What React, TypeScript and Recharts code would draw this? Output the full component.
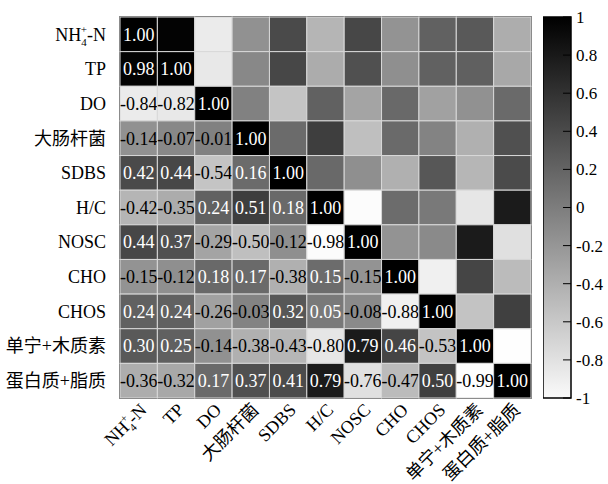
import { ScatterChart, Scatter, XAxis, YAxis, ReferenceArea, BarChart, Bar } from "recharts";

const labels = ["NH4-N", "TP", "DO", "大肠杆菌", "SDBS", "H/C", "NOSC", "CHO", "CHOS", "单宁+木质素", "蛋白质+脂质"];

// lower triangle of the correlation matrix, row by row
const rowNH4 = [1.0];
const rowTP = [0.98, 1.0];
const rowDO = [-0.84, -0.82, 1.0];
const rowEcoli = [-0.14, -0.07, -0.01, 1.0];
const rowSDBS = [0.42, 0.44, -0.54, 0.16, 1.0];
const rowHC = [-0.42, -0.35, 0.24, 0.51, 0.18, 1.0];
const rowNOSC = [0.44, 0.37, -0.29, -0.5, -0.12, -0.98, 1.0];
const rowCHO = [-0.15, -0.12, 0.18, 0.17, -0.38, 0.15, -0.15, 1.0];
const rowCHOS = [0.24, 0.24, -0.26, -0.03, 0.32, 0.05, -0.08, -0.88, 1.0];
const rowTannin = [0.3, 0.25, -0.14, -0.38, -0.43, -0.8, 0.79, 0.46, -0.53, 1.0];
const rowProtein = [-0.36, -0.32, 0.17, 0.37, 0.41, 0.79, -0.76, -0.47, 0.5, -0.99, 1.0];

const rows = [rowNH4, rowTP, rowDO, rowEcoli, rowSDBS, rowHC, rowNOSC, rowCHO, rowCHOS, rowTannin, rowProtein];

const colorTicks = [-1, -0.8, -0.6, -0.4, -0.2, 0, 0.2, 0.4, 0.6, 0.8, 1];

const cells: { x: number; y: number; v: number; show: boolean }[] = [];
rows.forEach((_, i) => {
  labels.forEach((__, j) => {
    const v = j <= i ? rows[i][j] : rows[j][i];
    cells.push({ x: j, y: i, v, show: j <= i });
  });
});

const grey = (v: number) => {
  const g = Math.round(((1 - v) / 2) * 255);
  return `rgb(${g},${g},${g})`;
};

const W = 608;
const H = 484;
const M = { top: 17, right: 77, bottom: 0, left: 0 };
const Y_W = 120;
const X_H = 86;
const cw = (W - M.left - M.right - Y_W) / labels.length;
const ch = (H - M.top - M.bottom - X_H) / labels.length;

const FONT = "'Liberation Serif', 'Times New Roman', 'Noto Sans CJK SC', serif";

const CellShape = (p: any) => {
  const { cx, cy, payload } = p;
  return (
    <g>
      <rect x={cx - cw / 2} y={cy - ch / 2} width={cw} height={ch} fill={grey(payload.v)} stroke="#d8d8d8" strokeWidth={1} />
      {payload.show && (
        <text x={cx} y={cy} textAnchor="middle" dy="0.35em" fontSize={18} fill={payload.v > 0 ? "#fff" : "#000"}>
          {payload.v.toFixed(2)}
        </text>
      )}
    </g>
  );
};

const NH4 = () => (
  <>
    NH<tspan fontSize={11} dy={5}>4</tspan>
    <tspan fontSize={11} dx={-6} dy={-13}>+</tspan>
    <tspan dy={8}>-N</tspan>
  </>
);

const YTick = (p: any) => {
  const { x, y, payload } = p;
  const name = labels[payload.value];
  return (
    <text x={x} y={y} textAnchor="end" dy="0.35em" fontSize={18} fill="#000">
      {name === "NH4-N" ? <NH4 /> : name}
    </text>
  );
};

const XTick = (p: any) => {
  const { x, y, payload } = p;
  const name = labels[payload.value];
  return (
    <g transform={`translate(${x + 9},${y + 5})`}>
      <text x={0} y={0} textAnchor="end" transform="rotate(-45)" fontSize={18} fill="#000">
        {name === "NH4-N" ? <NH4 /> : name}
      </text>
    </g>
  );
};

const CbTick = (p: any) => {
  const { x, y, payload } = p;
  const edge = x - 5;
  return (
    <g>
      <line x1={edge - 8} x2={edge} y1={y} y2={y} stroke="#000" strokeWidth={1} />
      <text x={x} y={y} dy="0.35em" textAnchor="start" fontSize={17} fill="#000">
        {payload.value}
      </text>
    </g>
  );
};

const cbData = [{ name: "cb", range: [-1, 1] }];

export default function App() {
  return (
    <div style={{ position: "absolute", left: 0, top: 0, width: W, height: H, background: "#fff", fontFamily: FONT }}>
      <div style={{ position: "absolute", left: 0, top: 0 }}>
        <ScatterChart width={W} height={H} margin={M}>
          <XAxis
            type="number"
            dataKey="x"
            domain={[-0.5, labels.length - 0.5]}
            ticks={labels.map((_, i) => i)}
            interval={0}
            height={X_H}
            axisLine={false}
            tickLine={false}
            tick={<XTick />}
          />
          <YAxis
            type="number"
            dataKey="y"
            reversed
            domain={[-0.5, labels.length - 0.5]}
            ticks={labels.map((_, i) => i)}
            interval={0}
            width={Y_W}
            axisLine={false}
            tickLine={false}
            tickMargin={8}
            tick={<YTick />}
          />
          <Scatter data={cells} shape={<CellShape />} isAnimationActive={false} />
          <ReferenceArea
            x1={-0.5}
            x2={labels.length - 0.5}
            y1={-0.5}
            y2={labels.length - 0.5}
            fill="none"
            fillOpacity={0}
            stroke="#000"
            strokeWidth={1.5}
            ifOverflow="visible"
          />
        </ScatterChart>
      </div>
      <div style={{ position: "absolute", left: 543, top: 0 }}>
        <BarChart width={65} height={H} data={cbData} margin={{ top: 17, right: 0, bottom: 86, left: 0 }} barCategoryGap={0}>
          <defs>
            <linearGradient id="cbGrad" x1="0" y1="0" x2="0" y2="1">
              <stop offset="0%" stopColor="#000" />
              <stop offset="100%" stopColor="#fafafa" />
            </linearGradient>
          </defs>
          <XAxis dataKey="name" hide />
          <YAxis
            orientation="right"
            type="number"
            domain={[-1, 1]}
            ticks={colorTicks}
            interval={0}
            width={37}
            axisLine={false}
            tickLine={false}
            tickSize={0}
            tickMargin={5}
            tick={<CbTick />}
          />
          <Bar dataKey="range" fill="url(#cbGrad)" stroke="#000" strokeWidth={1.5} isAnimationActive={false} />
        </BarChart>
      </div>
    </div>
  );
}
